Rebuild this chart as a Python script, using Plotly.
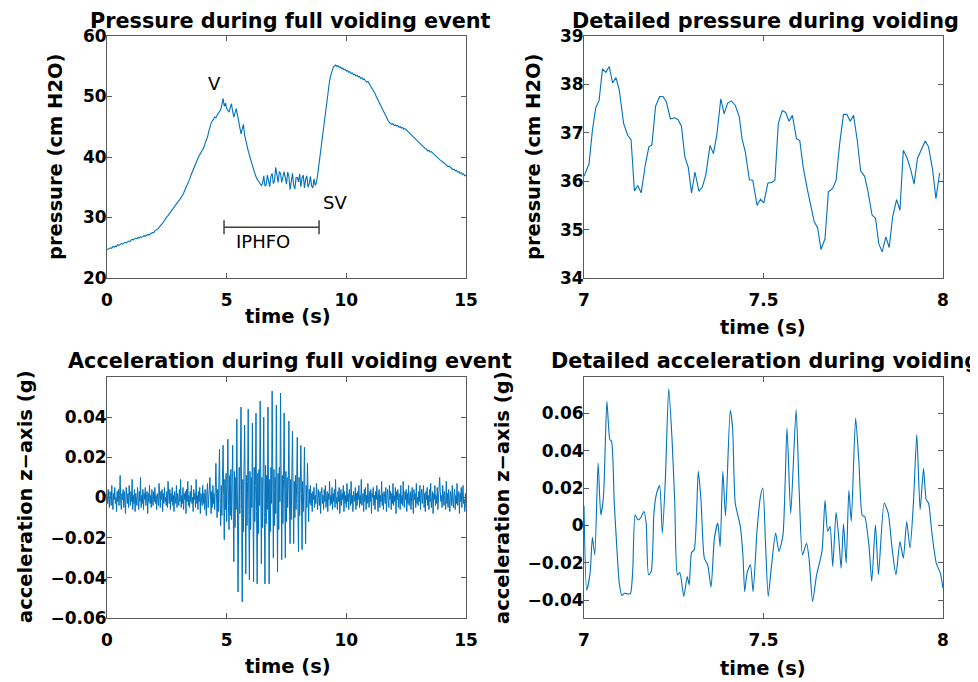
import numpy as np
import plotly.graph_objects as go

# ---------------- DATA ----------------
# Full voiding event pressure (cm H2O), sampled every 0.05 s from 0 to 15 s
pressure_full = [
    24.7, 24.8, 24.9, 25.0, 24.9, 25.2, 25.1, 25.3, 25.2, 25.5, 25.4, 25.6, 25.7, 25.6, 25.8, 25.9, 25.8, 26.0, 26.1, 26.0, 26.3,
    26.4, 26.3, 26.5, 26.6, 26.5, 26.7, 26.6, 26.8, 26.7, 26.9, 27.0, 26.9, 27.1, 27.2, 27.1, 27.3, 27.4, 27.5, 27.5, 27.8,
    27.9, 28.1, 28.2, 28.5, 28.7, 28.9, 29.2, 29.5, 29.9, 30.1, 30.3, 30.6, 30.8, 31.1, 31.3, 31.7, 32.0, 32.2, 32.6, 32.8,
    33.0, 33.3, 33.7, 34.0, 34.5, 34.9, 35.3, 35.8, 36.3, 36.9, 37.4, 38.0, 38.6, 39.0, 39.4, 39.8, 40.2, 40.6, 40.9, 41.3,
    41.6, 42.3, 42.8, 43.3, 44.2, 45.0, 45.6, 46.0, 46.2, 46.6, 46.5, 46.9, 47.2, 47.4, 47.8, 48.6, 49.7,
    48.4, 48.9, 48.0, 47.6, 47.4, 48.2, 48.8, 47.5, 46.6, 47.3, 48.0, 47.0, 46.0, 45.0, 43.8, 44.6, 45.4, 43.6, 42.9, 41.9, 41.0, 40.2, 39.6,
    39.0, 38.3, 37.6, 37.0, 36.5, 36.2, 35.9, 35.5, 35.3,
    35.6, 36.9, 35.2, 35.4, 37.0, 36.0, 35.1, 36.8, 37.3, 35.6,
    36.1, 38.3, 37.2, 35.8, 37.6, 37.3, 35.8, 36.7, 37.6, 36.6, 35.5, 37.5, 36.8, 34.6, 36.0, 37.3, 35.3, 34.7, 36.6, 36.6,
    35.9, 37.2, 35.1, 36.6, 37.0, 34.9, 36.3, 36.9, 35.0, 35.6, 36.8, 35.2, 34.9, 36.4, 35.3,
    35.8, 37.0, 38.6, 40.1, 42.0, 43.8, 45.5, 47.2, 48.6, 50.0, 51.4, 52.6, 53.5, 54.3, 54.8, 55.0,
    55.2, 55.0, 55.1, 54.8, 54.9, 54.6, 54.7, 54.4, 54.5, 54.2, 54.3, 54.0, 54.1, 53.8, 53.9, 53.6, 53.7, 53.4, 53.5, 53.2,
    53.3, 53.0, 53.1, 52.8, 52.9, 52.6, 52.4, 52.5, 52.2, 51.9, 51.6, 51.2, 50.8, 50.5, 50.0, 49.6, 49.1, 48.8, 48.3, 47.9,
    47.4, 47.0, 46.6, 46.2, 46.0, 45.7, 45.6, 45.4, 45.5, 45.2, 45.3, 45.1, 45.2, 44.9, 45.0, 44.8, 44.9, 44.6, 44.7, 44.5,
    44.3, 44.2, 43.9, 43.8, 43.5, 43.4, 43.1, 43.0, 42.7, 42.6, 42.3, 42.2, 41.9, 41.8, 41.6, 41.4, 41.3, 41.0, 41.1, 40.8,
    40.9, 40.6, 40.5, 40.3, 40.1, 40.0, 39.8, 39.6, 39.4, 39.3, 39.1, 38.9, 38.8, 38.6, 38.4, 38.5, 38.2, 38.1, 37.9, 38.0,
    37.7, 37.8, 37.5, 37.6, 37.3, 37.4, 37.1, 37.2, 36.9, 37.0,
]
pressure_step_s = 0.05

# Full voiding event acceleration (milli-g), sampled every 0.025 s from 0 to 15 s
accel_full_mg = [
    2, -3, 4, -1, -5, 3, 1, -4, 6, -2, -6, 2, -1, 5, -3, 0, -7, 3, -2, 4,
    -4, 1, 11, -3, -6, 2, -1, 4, -5, 3, -2, -8, 5, 0, -3, 2, -5, 6, -1, -4,
    3, -2, 9, -6, 1, -3, 4, -7, 2, 0, -4, 5, -1, -6, 3, -2, 10, -5, 1, -3,
    4, -6, 2, -1, 5, -4, 0, 3, -8, 2, -2, 6, -3, 1, -5, 4, -1, -4, 3, -2,
    5, -3, 1, -6, 2, 0, -4, 7, -2, -5, 3, -1, 4, -7, 2, -3, 5, -2, 0, -4,
    3, -5, 8, -1, -3, 4, -6, 2, -2, 5, -4, 1, -7, 3, 0, -3, 6, -5, 2, -1,
    -4, 4, -2, 9, -5, 1, -3, 5, -6, 2, -1, 3, -8, 4, -2, 8, -4, 1, -5, 3,
    -2, 6, -3, 0, -7, 4, -1, 2, -5, 9, -3, 1, -6, 3, -2, 5, -8, 2, 0, -4,
    6, -3, 2, -6, 4, -1, -9, 3, 7, -5,
    -2, 4, 10, -2, -8, 3, -5, 6, -3, 2,
    -6, 5, 17, 2, -10, 4, -7, 8, 24, -3,
    -14, 6, -9, 10, 26, 1, -21, 9, -6, 12,
    -12, 7, 29, -4, -16, 11, -9, 14, -11, 6,
    26, -8, -32, 13, -15, 10, -6, 39, 5, -47,
    -12, 15, -8, 12, 45, -6, -52, 9, -17, 14,
    36, 2, -38, 11, -14, 8, 44, -9, -41, 13,
    -16, 10, -5, 37, 4, -42, 15, -12, 6, 42,
    -7, -43, 12, -18, 14, -4, 48, 3, -33, 10,
    -15, 13, 40, -10, -43, 16, -13, 11, -6, 45,
    6, -43, 9, -17, 15, -3, 53, -5, -30, 14,
    -14, 10, -8, 46, 7, -37, 12, -16, 15, -2,
    52, -6, -31, 11, -13, 9, 42, 4, -30, 13,
    -12, 10, -5, 8, 38, -4, -23, 9, -11, 12,
    33, 3, -23, 8, -10, 11, -6, 7, 30, -3,
    -27, 10, -9, 6, 26, 2, -26, 8, -7, 5,
    25, -4, -23, 6, -5, 17, 1, -12, 4, -3,
    6, -4, 2, -7, 3, -1, 5, -5, 1, -3, 7, -2, -6, 4, 0, -4, 3, -8, 2, 5,
    -3, 1, -6, 4, -2, 6, -5, 0, 3, -7, 2, -1, 8, -4, 1, -3, 5, -6, 2, -2,
    4, -5, 9, -3, 0, -6, 3, -2, 5, -8, 1, 4, -4, 2, -1, 6, -7, 3, -3, 1,
    -5, 7, -2, 2, -6, 4, -1, -4, 8, -3, 1, -7, 3, 0, -2, 5, -6, 2, -4, 3,
    -1, 6, -5, 1, -3, 9, -4, 0, 2, -7, 4, -2, 5, -6, 1, -3, 7, -1, -5, 3,
    -2, 4, -8, 2, 0, 5, -4, 1, -6, 3, -1, 6, -3, -7, 2, 4, -5, 1, -2, 8,
    -4, 2, -6, 3, 0, -3, 5, -7, 1, 4, -2, -5, 6, -1, 3, -6, 2, -3, 7, -4,
    1, -2, 5, -8, 3, -1, 4, -5, 2, 0, -6, 6, -3, 1, -4, 8, -2, -5, 3, -1,
    4, -7, 2, -3, 6, -4, 0, 3, -6, 1, 5, -2, -8, 4, -1, 2, -5, 7, -3, 0,
    -4, 3, -2, 6, -6, 1, 4, -3, 0, 6, -5, 2, -7, 3, -1, 5, -4, 1, -6, 4,
    -2, 7, -5, 0, 3, -8, 2, -1, 6, -4, 1, -3, 5, -6, 2, 4, 10, 3, -2, 1,
    -5, 6, -1, -4, 3, 0, -6, 8, -3, 2, -5, 4, -1, -7, 3, 1, -4, 6, -2, -5,
    2, 4, -6, 1, -3, 7, -4, 0, 3, -8, 2, -2, 5, -5, 1, 6, -3, -1, -7, 2, -5,
]
accel_step_s = 0.025

# Detailed pressure, 7-8 s
detail_p_time = [
    7.0000, 7.0140, 7.0234, 7.0328, 7.0421, 7.0515, 7.0609, 7.0702, 7.0796, 7.0890,
    7.0983, 7.1105, 7.1217, 7.1311, 7.1404, 7.1498, 7.1592, 7.1713, 7.1807, 7.1891,
    7.1994, 7.2107, 7.2200, 7.2294, 7.2406, 7.2528, 7.2622, 7.2715, 7.2809, 7.2903,
    7.2996, 7.3090, 7.3202, 7.3296, 7.3390, 7.3511, 7.3605, 7.3699, 7.3811, 7.3904,
    7.3998, 7.4101, 7.4213, 7.4326, 7.4401, 7.4494, 7.4607, 7.4700, 7.4822, 7.4916,
    7.5009, 7.5122, 7.5243, 7.5318, 7.5412, 7.5524, 7.5618, 7.5712, 7.5805, 7.5918,
    7.6011, 7.6105, 7.6227, 7.6320, 7.6414, 7.6507, 7.6601, 7.6713, 7.6807, 7.6929,
    7.7022, 7.7116, 7.7228, 7.7322, 7.7416, 7.7509, 7.7612, 7.7706, 7.7818, 7.7912,
    7.8024, 7.8118, 7.8212, 7.8305, 7.8408, 7.8502, 7.8596, 7.8708, 7.8801, 7.8895,
    7.8989, 7.9101, 7.9195, 7.9288, 7.9410, 7.9504, 7.9597, 7.9710, 7.9803, 7.9906,
]
detail_pressure = [
    36.10, 36.36, 37.05, 37.52, 37.67, 38.32, 38.25, 38.37, 38.03, 38.14,
    37.88, 37.19, 36.95, 36.86, 35.80, 35.91, 35.76, 36.36, 36.71, 36.75,
    37.55, 37.75, 37.75, 37.64, 37.29, 37.31, 37.27, 37.13, 36.50, 36.29,
    35.76, 36.19, 35.79, 35.88, 36.12, 36.74, 36.57, 36.95, 37.70, 37.39,
    37.61, 37.66, 37.57, 37.33, 36.88, 36.60, 36.03, 36.02, 35.50, 35.63,
    35.55, 35.96, 35.98, 36.02, 37.19, 37.46, 37.42, 37.24, 37.36, 36.88,
    36.84, 36.29, 35.81, 35.47, 35.16, 35.04, 34.59, 34.81, 35.78, 35.85,
    36.02, 36.74, 37.38, 37.38, 37.24, 37.36, 36.84, 36.21, 36.10, 35.78,
    35.30, 35.24, 34.71, 34.54, 34.85, 34.63, 35.26, 35.62, 35.40, 36.64,
    36.50, 36.24, 35.94, 36.47, 36.67, 36.83, 36.71, 36.24, 35.64, 36.17,
]

# Detailed acceleration, 7-8 s
detail_a_time = [
    7.0000, 7.0075, 7.0169, 7.0234, 7.0300, 7.0393, 7.0468, 7.0543, 7.0637, 7.0721,
    7.0768, 7.0843, 7.0918, 7.0983, 7.1058, 7.1124, 7.1217, 7.1292, 7.1358, 7.1423,
    7.1498, 7.1573, 7.1667, 7.1732, 7.1798, 7.1873, 7.1948, 7.2013, 7.2107, 7.2182,
    7.2266, 7.2360, 7.2453, 7.2528, 7.2603, 7.2669, 7.2781, 7.2875, 7.2931, 7.2996,
    7.3071, 7.3184, 7.3258, 7.3352, 7.3446, 7.3539, 7.3633, 7.3727, 7.3792, 7.3867,
    7.3942, 7.4073, 7.4139, 7.4213, 7.4354, 7.4429, 7.4476, 7.4541, 7.4635, 7.4710,
    7.4822, 7.4916, 7.4981, 7.5056, 7.5131, 7.5225, 7.5337, 7.5431, 7.5543, 7.5655,
    7.5758, 7.5908, 7.5993, 7.6086, 7.6199, 7.6273, 7.6367, 7.6479, 7.6629, 7.6713,
    7.6788, 7.6854, 7.6929, 7.7022, 7.7097, 7.7163, 7.7228, 7.7303, 7.7378, 7.7444,
    7.7566, 7.7659, 7.7753, 7.7818, 7.7940, 7.8015, 7.8118, 7.8202, 7.8361, 7.8474,
    7.8586, 7.8689, 7.8801, 7.8895, 7.8989, 7.9082, 7.9176, 7.9270, 7.9363, 7.9457,
    7.9532, 7.9597, 7.9691, 7.9813, 7.9925, 8.0000,
]
detail_accel = [
    0.0105, -0.0345, -0.0255, -0.0064, -0.0157, 0.0334, 0.0057, 0.0155, 0.0664, 0.0459,
    0.0450, 0.0120, -0.0130, -0.0309, -0.0375, -0.0363, -0.0366, -0.0366, -0.0238, 0.0057,
    0.0030, 0.0039, 0.0075, 0.0013, -0.0264, -0.0246, 0.0066, 0.0164, 0.0213, -0.0041,
    0.0245, 0.0732, 0.0459, 0.0120, -0.0264, -0.0252, -0.0380, -0.0273, -0.0318, -0.0145,
    -0.0130, 0.0289, 0.0138, -0.0175, -0.0211, -0.0330, -0.0068, 0.0013, -0.0113, 0.0289,
    0.0052, 0.0616, 0.0521, 0.0120, -0.0005, -0.0166, -0.0354, -0.0255, -0.0211, -0.0354,
    -0.0023, 0.0155, 0.0200, -0.0095, -0.0380, -0.0211, -0.0041, -0.0139, -0.0050, 0.0521,
    0.0063, 0.0620, 0.0191, -0.0157, -0.0095, -0.0184, -0.0407, -0.0264, -0.0139, 0.0134,
    -0.0032, -0.0005, -0.0220, 0.0070, -0.0068, -0.0229, 0.0009, -0.0202, 0.0188, 0.0021,
    0.0575, 0.0334, 0.0052, 0.0048, -0.0113, -0.0300, 0.0004, -0.0264, 0.0120, 0.0066,
    -0.0130, -0.0264, -0.0086, -0.0175, 0.0021, -0.0121, 0.0120, 0.0486, 0.0084, 0.0304,
    0.0138, 0.0120, -0.0041, -0.0202, -0.0255, -0.0336,
]

# Annotations on the pressure plot
iphfo_start_s, iphfo_end_s, iphfo_level = 4.89, 8.86, 28.4
label_V = (4.51, 52.2)
label_SV = (9.53, 32.45)
label_IPHFO = (6.51, 26.0)

titles = ["Pressure during full voiding event", "Detailed pressure during voiding",
          "Acceleration during full voiding event", "Detailed acceleration during voiding"]

# ---------------- FIGURE ----------------
PAGE_OFFSET = 8            # default body margin of the html page
W, H = 978 - PAGE_OFFSET, 682 - PAGE_OFFSET
BLUE = "#0072BD"
AX = "#5a5a5a"
FONT = "DejaVu Sans"

t_p = [i * pressure_step_s for i in range(len(pressure_full))]
t_a = [i * accel_step_s for i in range(len(accel_full_mg))]
accel_full = [v / 1000 for v in accel_full_mg]

fig = go.Figure()
fig.add_trace(go.Scatter(x=t_p, y=pressure_full, mode="lines", line=dict(color=BLUE, width=1.1),
                         xaxis="x", yaxis="y", showlegend=False))
fig.add_trace(go.Scatter(x=[iphfo_start_s, iphfo_end_s], y=[iphfo_level, iphfo_level],
                         mode="lines+markers", line=dict(color="#404040", width=1.5),
                         marker=dict(symbol="line-ns", size=10, line=dict(color="#404040", width=1.5)),
                         xaxis="x", yaxis="y", showlegend=False))
fig.add_trace(go.Scatter(x=detail_p_time, y=detail_pressure, mode="lines", line=dict(color=BLUE, width=1.1),
                         xaxis="x2", yaxis="y2", showlegend=False))
fig.add_trace(go.Scatter(x=t_a, y=accel_full, mode="lines", line=dict(color=BLUE, width=1),
                         xaxis="x3", yaxis="y3", showlegend=False))
fig.add_trace(go.Scatter(x=detail_a_time, y=detail_accel, mode="lines",
                         line=dict(color=BLUE, width=1.1, shape="spline", smoothing=0.6),
                         xaxis="x4", yaxis="y4", showlegend=False))

# screen pixel -> paper fraction
def px_x(p):
    return (p - PAGE_OFFSET) / W

def px_y(p):
    return 1 - (p - PAGE_OFFSET) / H

dom_x_left = [px_x(107), px_x(466)]
dom_x_right = [px_x(584), px_x(943)]
dom_y_top = [px_y(278), px_y(36)]
dom_y_bot = [px_y(618), px_y(377)]

tickfont = dict(family=FONT, size=17, color="black", weight="bold")

def xaxis(**kw):
    d = dict(showline=True, linecolor=AX, linewidth=1, mirror="ticks", ticks="inside", ticklen=5,
             tickcolor=AX, tickwidth=1, showgrid=False, zeroline=False, tickfont=tickfont,
             automargin=False, ticklabelstandoff=7)
    d.update(kw)
    return d

def yaxis(**kw):
    d = xaxis(**kw)
    d["ticklabelstandoff"] = -4
    return d

fig.update_layout(
    width=W, height=H, autosize=False,
    margin=dict(l=0, r=0, t=0, b=0, pad=0, autoexpand=False),
    paper_bgcolor="white", plot_bgcolor="white",
    xaxis=xaxis(domain=dom_x_left, range=[0, 15], tickvals=[0, 5, 10, 15], anchor="y"),
    yaxis=yaxis(domain=dom_y_top, range=[20, 60], tickvals=[20, 30, 40, 50, 60], anchor="x"),
    xaxis2=xaxis(domain=dom_x_right, range=[7, 8], tickvals=[7, 7.5, 8], anchor="y2"),
    yaxis2=yaxis(domain=dom_y_top, range=[34, 39], tickvals=[34, 35, 36, 37, 38, 39], anchor="x2"),
    xaxis3=xaxis(domain=dom_x_left, range=[0, 15], tickvals=[0, 5, 10, 15], anchor="y3"),
    yaxis3=yaxis(domain=dom_y_bot, range=[-0.06, 0.06], tickvals=[-0.06, -0.04, -0.02, 0, 0.02, 0.04], anchor="x3"),
    xaxis4=xaxis(domain=dom_x_right, range=[7, 8], tickvals=[7, 7.5, 8], anchor="y4"),
    yaxis4=yaxis(domain=dom_y_bot, range=[-0.0495, 0.0794], tickvals=[-0.04, -0.02, 0, 0.02, 0.04, 0.06], anchor="x4"),
)

ann = []
def text_px(x, y, s, size=20, bold=True, angle=0):
    ann.append(dict(x=px_x(x), y=px_y(y), xref="paper", yref="paper", text=s, showarrow=False,
                    xanchor="center", yanchor="middle", textangle=angle,
                    font=dict(family=FONT, size=size, color="black", weight="bold" if bold else "normal")))

TS = 20.8
LS = 19.5
text_px(290, 20.5, titles[0], size=TS)
text_px(765, 20.5, titles[1], size=TS)
text_px(290, 361, titles[2], size=TS)
text_px(765, 361, titles[3], size=TS)
text_px(288, 316, "time (s)", size=LS)
text_px(763, 327, "time (s)", size=LS)
text_px(288, 666, "time (s)", size=LS)
text_px(763, 668, "time (s)", size=LS)
text_px(55, 157, "pressure (cm H2O)", size=LS, angle=-90)
text_px(533, 157, "pressure (cm H2O)", size=LS, angle=-90)
text_px(25, 497, "acceleration z\u2212axis (g)", size=LS, angle=-90)
text_px(502, 497, "acceleration z\u2212axis (g)", size=LS, angle=-90)

for (lx, ly), s in [(label_V, "V"), (label_SV, "SV"), (label_IPHFO, "IPHFO")]:
    ann.append(dict(x=lx, y=ly, xref="x", yref="y", text=s, showarrow=False,
                    xanchor="center", yanchor="middle",
                    font=dict(family=FONT, size=18, color="black")))

fig.update_layout(annotations=ann)
fig.write_html("out.html")
